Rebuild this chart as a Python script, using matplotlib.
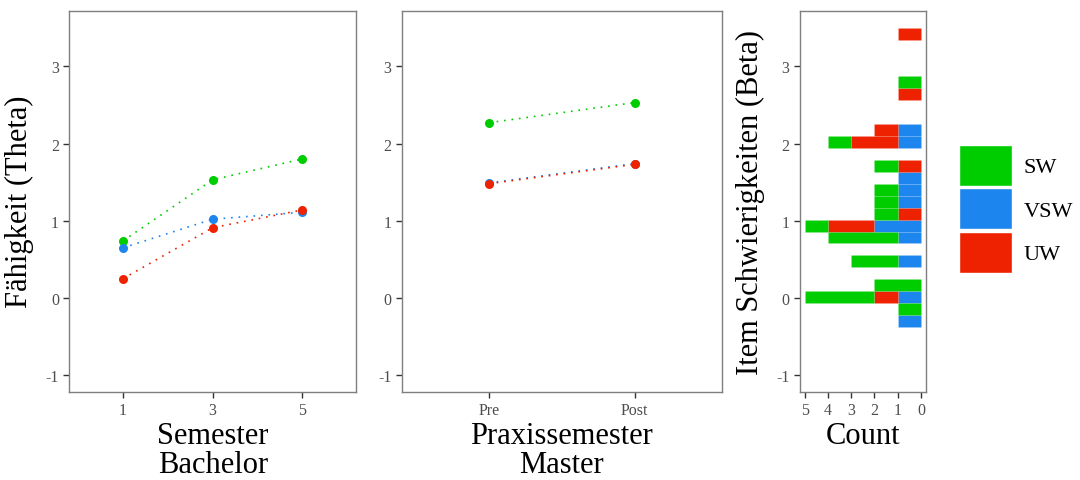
import numpy as np
import matplotlib
matplotlib.use("Agg")
import matplotlib.pyplot as plt
from matplotlib.patches import Patch

plt.rcParams['font.family'] = ['Liberation Serif', 'DejaVu Serif']
plt.rcParams['axes.unicode_minus'] = False

# colours per group
groups = ["SW", "VSW", "UW"]
colors = {"SW": "#00CD00", "VSW": "#1C86EE", "UW": "#EE2200"}

# panel 1: Bachelor semester
semester = ["1", "3", "5"]
sw_bachelor = [0.74, 1.53, 1.80]
vsw_bachelor = [0.65, 1.02, 1.11]
uw_bachelor = [0.25, 0.91, 1.14]

# panel 2: Praxissemester Master
praxis = ["Pre", "Post"]
sw_master = [2.27, 2.53]
vsw_master = [1.49, 1.74]
uw_master = [1.48, 1.73]

# panel 3: item difficulties, binned (bin centers and counts per group)
bin_width = 0.155
beta_bins = [-0.302, -0.147, 0.008, 0.163, 0.473, 0.783, 0.938, 1.093,
             1.248, 1.403, 1.558, 1.713, 2.023, 2.178, 2.643, 2.798, 3.418]
vsw_count = [1, 0, 1, 0, 1, 1, 2, 0, 1, 1, 1, 0, 1, 1, 0, 0, 0]
uw_count  = [0, 0, 1, 0, 0, 0, 2, 1, 0, 0, 0, 1, 2, 1, 1, 0, 1]
sw_count  = [0, 1, 3, 2, 2, 3, 1, 1, 1, 1, 0, 1, 1, 0, 0, 1, 0]

W, H = 1080, 481
fig = plt.figure(figsize=(W / 100, H / 100), dpi=100)

ylim = (-1.214, 3.72)
frame_col = "#7F7F7F"
tick_col = "#4D4D4D"


def ax_box(x0, x1, y0=392.7, y1=11.7):
    return [x0 / W, (H - y0) / H, (x1 - x0) / W, (y0 - y1) / H]


def style(ax):
    for s in ax.spines.values():
        s.set_color(frame_col)
        s.set_linewidth(1.0)
    ax.tick_params(colors="#333333", labelcolor=tick_col, labelsize=11.5,
                   length=4, width=1.0, direction="out")
    ax.set_ylim(*ylim)
    ax.set_yticks([-1, 0, 1, 2, 3])


ax1 = fig.add_axes(ax_box(69.3, 356))
ax2 = fig.add_axes(ax_box(402, 721.7))
ax3 = fig.add_axes(ax_box(800, 926))

# line panels
for ax, cats, series in [
    (ax1, semester, [sw_bachelor, vsw_bachelor, uw_bachelor]),
    (ax2, praxis, [sw_master, vsw_master, uw_master]),
]:
    xs = np.arange(len(cats))
    for g, vals in zip(groups, series):
        ax.plot(xs, vals, linestyle=(0, (1, 3.5)), linewidth=1.2,
                color=colors[g], zorder=2)
        ax.plot(xs, vals, "o", markersize=6.5, color=colors[g],
                markeredgewidth=0, zorder=3)
    ax.set_xticks(xs)
    ax.set_xticklabels(cats)
    ax.set_xlim(-0.6, len(cats) - 1 + 0.6)
    style(ax)

ax1.set_ylabel("Fähigkeit (Theta)", fontsize=22, labelpad=8)
ax1.set_xlabel("Semester\nBachelor", fontsize=22, linespacing=1.0, labelpad=2)
ax2.set_xlabel("Praxissemester\nMaster", fontsize=22, linespacing=1.0, labelpad=2)

# stacked horizontal histogram
left = np.zeros(len(beta_bins))
for g, cnt in [("VSW", vsw_count), ("UW", uw_count), ("SW", sw_count)]:
    cnt = np.array(cnt)
    ax3.barh(beta_bins, cnt, left=left, height=bin_width, color=colors[g],
             edgecolor="#FFFFFF22", linewidth=0.4, zorder=2)
    left = left + cnt
ax3.set_xlim(5.2, -0.22)
ax3.set_xticks([5, 4, 3, 2, 1, 0])
style(ax3)
ax3.set_xlabel("Count", fontsize=22, labelpad=2)
ax3.set_ylabel("Item Schwierigkeiten (Beta)", fontsize=22, labelpad=8)

handles = [Patch(facecolor=colors[g], edgecolor="white", linewidth=1.0) for g in groups]
fig.legend(handles, groups, loc="upper left",
           bbox_to_anchor=(950 / W, (H - 137) / H), frameon=False,
           fontsize=16, handlelength=2.4, handleheight=2.45,
           labelspacing=0.12, handletextpad=0.5, borderaxespad=0)

fig.savefig("out.png", dpi=100)
